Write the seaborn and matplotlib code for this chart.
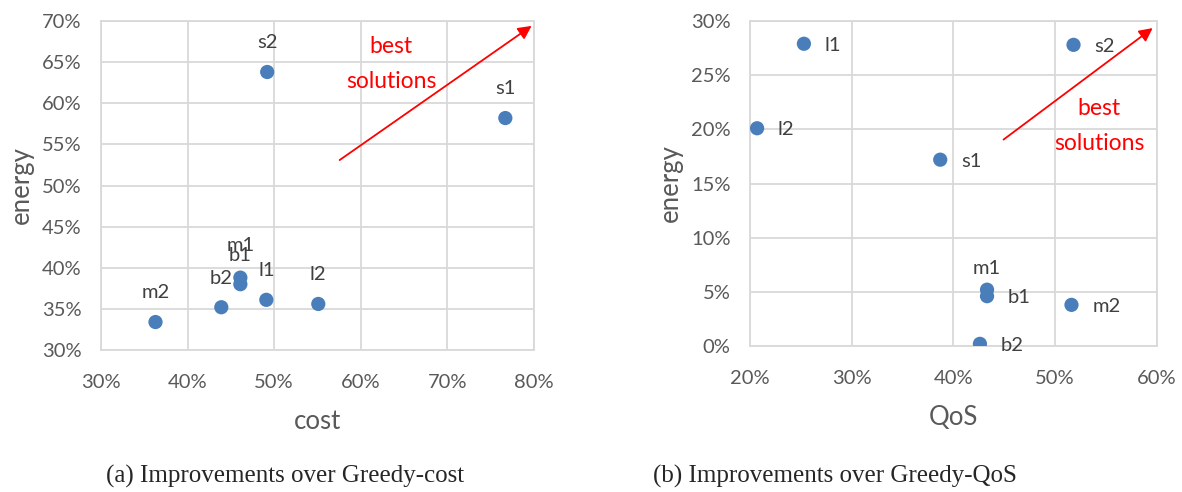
import numpy as np
import pandas as pd
import matplotlib
matplotlib.use('Agg')
import matplotlib.pyplot as plt
import seaborn as sns
from matplotlib.ticker import PercentFormatter

# panel (a): improvements over Greedy-cost
names_a = ['s2', 's1', 'm1', 'b1', 'b2', 'l1', 'l2', 'm2']
cost_a = [49.2, 76.7, 46.1, 46.1, 43.9, 49.1, 55.1, 36.3]
energy_a = [63.8, 58.2, 38.8, 38.0, 35.2, 36.1, 35.6, 33.4]

# panel (b): improvements over Greedy-QoS
names_b = ['l1', 's2', 'l2', 's1', 'm1', 'b1', 'm2', 'b2']
qos_b = [25.3, 51.8, 20.7, 38.7, 43.3, 43.3, 51.6, 42.6]
energy_b = [27.9, 27.8, 20.1, 17.2, 5.2, 4.6, 3.8, 0.2]
# where each label sits relative to its point in panel (b)
label_side_b = ['right', 'right', 'right', 'right', 'above', 'right', 'right', 'right']

sns.set_style('white')
plt.rcParams['font.family'] = ['Lato', 'DejaVu Sans']

blue = '#4a7ebb'
grid = '#d9d9d9'
txt = '#595959'

fig = plt.figure(figsize=(11.82, 4.92), dpi=100)
ax1 = fig.add_axes([0.0854, 0.2886, 0.3663, 0.6687])
ax2 = fig.add_axes([0.6345, 0.2967, 0.3443, 0.6606])

df_a = pd.DataFrame({'cost': cost_a, 'energy': energy_a, 'name': names_a})
df_b = pd.DataFrame({'QoS': qos_b, 'energy': energy_b, 'name': names_b})

sns.scatterplot(data=df_a, x='cost', y='energy', ax=ax1, color=blue, s=105,
                edgecolor='none', zorder=3)
sns.scatterplot(data=df_b, x='QoS', y='energy', ax=ax2, color=blue, s=105,
                edgecolor='none', zorder=3)

ax1.set_xlim(30, 80)
ax1.set_ylim(30, 70)
ax1.set_xticks(np.arange(30, 81, 10))
ax1.set_yticks(np.arange(30, 71, 5))
ax2.set_xlim(20, 60)
ax2.set_ylim(0, 30)
ax2.set_xticks(np.arange(20, 61, 10))
ax2.set_yticks(np.arange(0, 31, 5))

for ax, xl in [(ax1, 'cost'), (ax2, 'QoS')]:
    ax.xaxis.set_major_formatter(PercentFormatter(decimals=0))
    ax.yaxis.set_major_formatter(PercentFormatter(decimals=0))
    ax.grid(True, color=grid, lw=1.3, zorder=0)
    ax.set_axisbelow(True)
    for sp in ax.spines.values():
        sp.set_color(grid)
        sp.set_linewidth(1.3)
    ax.tick_params(length=0, labelsize=14.5, labelcolor=txt)
    ax.tick_params(axis='x', pad=17)
    ax.tick_params(axis='y', pad=14)
    ax.set_xlabel(xl, fontsize=18.5, color=txt, labelpad=13)
    ax.set_ylabel('energy', fontsize=18.5, color=txt, labelpad=6)

# point labels
for n, x, y in zip(names_a, cost_a, energy_a):
    dy = 23 if n == 'm1' else 21
    ax1.annotate(n, (x, y), xytext=(0, dy), textcoords='offset points',
                 ha='center', va='center', fontsize=14.5, color='#404040')
for n, x, y, side in zip(names_b, qos_b, energy_b, label_side_b):
    if side == 'above':
        ax2.annotate(n, (x, y), xytext=(0, 15), textcoords='offset points',
                     ha='center', va='center', fontsize=14.5, color='#404040')
    else:
        ax2.annotate(n, (x, y), xytext=(15, -1), textcoords='offset points',
                     ha='left', va='center', fontsize=14.5, color='#404040')

# "best solutions" arrows
ax1.annotate('', xy=(80, 69.6), xytext=(57.3, 52.9),
             arrowprops=dict(arrowstyle='-|>', color='red', lw=1.3, mutation_scale=20),
             annotation_clip=False)
ax1.text(63.5, 66.9, 'best', color='red', fontsize=16.5, ha='center', va='center')
ax1.text(63.5, 62.6, 'solutions', color='red', fontsize=16.5, ha='center', va='center')

ax2.annotate('', xy=(59.8, 29.5), xytext=(44.7, 18.9),
             arrowprops=dict(arrowstyle='-|>', color='red', lw=1.3, mutation_scale=20),
             annotation_clip=False)
ax2.text(54.3, 21.9, 'best', color='red', fontsize=16.5, ha='center', va='center')
ax2.text(54.3, 18.65, 'solutions', color='red', fontsize=16.5, ha='center', va='center')

# captions
fig.text(285 / 1182, 1 - 476 / 492, '(a) Improvements over Greedy-cost',
         family='Liberation Serif', fontsize=18, ha='center', va='center')
fig.text(835 / 1182, 1 - 476 / 492, '(b) Improvements over Greedy-QoS',
         family='Liberation Serif', fontsize=18, ha='center', va='center')

fig.savefig('out.png', dpi=100)
